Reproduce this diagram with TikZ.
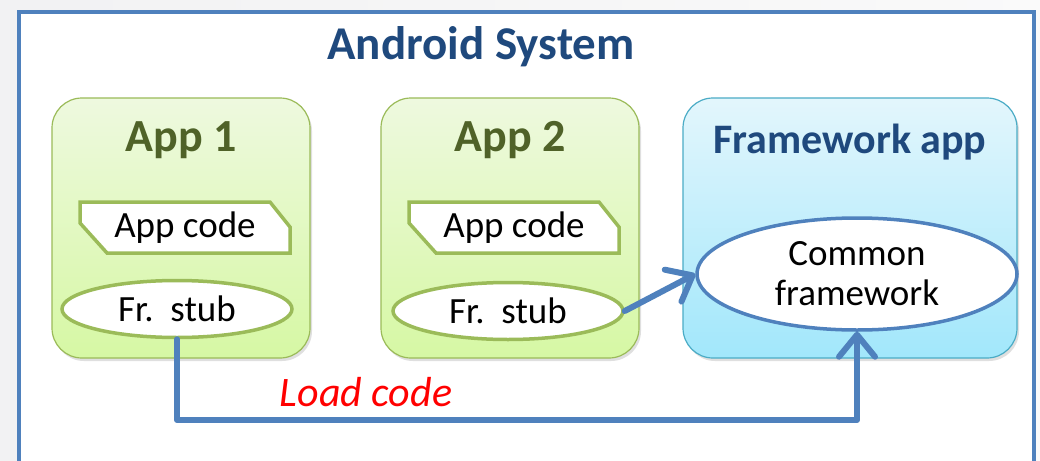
\documentclass[tikz,border=0pt]{standalone}
\usepackage{fontspec}
\setmainfont{Carlito}
\usetikzlibrary{arrows.meta,shapes.geometric,shadows}
\definecolor{frameblue}{HTML}{4F81BD}
\definecolor{titleblue}{HTML}{1F497D}
\definecolor{appgreen}{HTML}{9BBB59}
\definecolor{appdark}{HTML}{4F6228}
\definecolor{fwcyan}{HTML}{4BACC6}
\definecolor{greentop}{HTML}{EEF9DF}
\definecolor{greenbot}{HTML}{D6F8A4}
\definecolor{cyantop}{HTML}{E3F6FC}
\definecolor{cyanbot}{HTML}{A2E7FB}

\begin{document}
\begin{tikzpicture}[x=1pt,y=-1pt,
    appbox/.style={draw=appgreen, line width=1.2pt, rounded corners=30pt,
        top color=greentop, bottom color=greenbot,
        drop shadow={shadow xshift=2pt, shadow yshift=-3pt, opacity=0.25},
        minimum width=258pt, minimum height=260pt},
    fwbox/.style={appbox, draw=fwcyan, top color=cyantop, bottom color=cyanbot},
    apptitle/.style={font=\bfseries\fontsize{46}{50}\selectfont, text=appdark},
    codeshape/.style={draw=appgreen, line width=3.5pt, fill=white},
    stub/.style={ellipse, draw=appgreen, line width=3.5pt, fill=white,
        font=\fontsize{37}{40}\selectfont, minimum width=230pt, minimum height=57pt, inner sep=0pt},
    link/.style={draw=frameblue, line width=6pt, line cap=round, line join=round,
        -{Straight Barb[length=22pt, width=36pt, line cap=round, line join=round]}}]
    \useasboundingbox (0,0) rectangle (1040,460);
    \clip (0,0) rectangle (1040,460);
    \shade[left color=blue!5!gray!10, right color=blue!2!gray!4] (0,0) rectangle (1040,460);
    \node[draw=frameblue, line width=4pt, fill=white, anchor=north west,
        minimum width=1015pt, minimum height=470pt] (system) at (17,10) {};
    \node[font=\bfseries\fontsize{47}{50}\selectfont, text=titleblue] (systitle) at (481,47) {Android System};
    % the two apps
    \foreach \i/\bx/\cx/\sx/\sy in {1/181/185/177/309, 2/510/514/508/311}
    {
        \node[appbox] (app\i) at (\bx,228) {};
        \node[apptitle] (apptitle\i) at (\bx,140) {App \i};
        \draw[codeshape] (\cx-105,202) -- (\cx+85,202) -- (\cx+105,227) -- (\cx+105,253)
            -- (\cx-78,253) -- (\cx-105,223) -- cycle;
        \node[font=\fontsize{37}{40}\selectfont] (code\i) at (\cx,228) {App code};
        \node[stub] (stub\i) at (\sx,\sy) {Fr.\ \ stub};
    }
    % framework app
    \node[fwbox, minimum width=334pt] (fwapp) at (850,228) {};
    \node[font=\bfseries\fontsize{42}{46}\selectfont, text=titleblue] (fwtitle) at (850,142) {Framework app};
    \node[stub, draw=frameblue, minimum width=320pt, minimum height=112pt, align=center,
        font=\fontsize{37}{40}\selectfont] (common) at (857,274) {Common\\framework};
    % connectors
    \draw[link] (stub2.east) -- (common.west);
    \coordinate (bend) at (177,420);
    \draw[link] (stub1.south) -- (bend) -| (common.south);
    \node[font=\itshape\fontsize{42}{48}\selectfont, text=red] (loadlabel) at (366,392) {Load code};
\end{tikzpicture}
\end{document}
